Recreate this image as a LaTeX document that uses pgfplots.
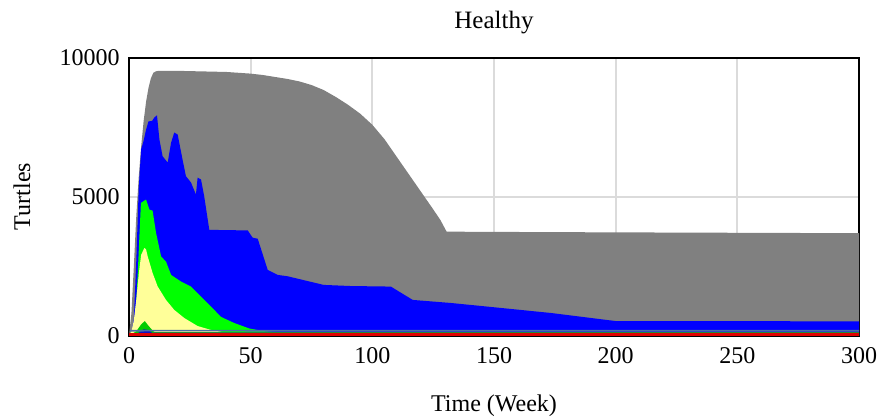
\documentclass[border=0pt]{standalone}
\usepackage{pgfplots}
\pgfplotsset{compat=1.18}
\usepackage{fontspec}
\setmainfont{Liberation Serif}

\definecolor{popgray}{HTML}{808080}
\definecolor{popblue}{HTML}{0000FF}
\definecolor{popgreen}{HTML}{00FF00}
\definecolor{popyellow}{HTML}{FFFF99}
\definecolor{popslate}{HTML}{4A6FA5}
\definecolor{popdkgreen}{HTML}{1F8A3A}
\definecolor{popred}{HTML}{E00000}
\definecolor{popdkblue}{HTML}{1010C0}

\begin{document}
\begin{tikzpicture}
\begin{axis}[
  at={(0,0)}, anchor=south west,
  scale only axis,
  width=365pt, height=139pt,
  xmin=0, xmax=300, ymin=0, ymax=10000,
  font=\fontsize{12pt}{14pt}\selectfont,
  set layers,
  axis line style={black, line width=1pt, on layer=axis foreground},
  scaled x ticks=false, scaled y ticks=false,
  xtick={0,50,100,150,200,250,300},
  xticklabels={0,50,100,150,200,250,300},
  ytick={0,5000,10000},
  yticklabels={0,5000,10000},
  major tick length=0pt,
  grid=major,
  major grid style={color=black!14, line width=1pt},
  xticklabel style={anchor=base, inner sep=0pt, yshift=-14pt},
  yticklabel style={anchor=east, inner sep=0pt, xshift=-4.5pt},
  title={\fontsize{12.5pt}{14pt}\selectfont Healthy},
  title style={at={(axis description cs:0.5,1.061)}, anchor=base, inner sep=0pt},
  xlabel={Time (Week)},
  xlabel style={at={(axis description cs:0.5,-0.2734)}, anchor=base, inner sep=0pt},
  ylabel={Turtles},
  ylabel style={at={(axis description cs:-0.1356,0.5)}, anchor=base, inner sep=0pt},
]
% total population
\addplot[fill=popgray, draw=none] coordinates {
  (0,0) (1,800) (2,2500) (3,4300) (4,5700) (5,6800) (6,7700) (7,8400)
  (8,8900) (9,9250) (10,9450) (11,9500) (12,9520) (20,9520) (30,9500)
  (40,9480) (50,9420) (55,9370) (60,9300) (65,9230) (70,9140) (75,9010)
  (80,8830) (85,8580) (90,8300) (95,7980) (100,7580) (105,7060)
  (110,6430) (115,5800) (120,5170) (125,4540) (128,4150) (130.5,3740)
  (140,3730) (200,3710) (300,3680)
} \closedcycle;
% juveniles
\addplot[fill=popblue, draw=none] coordinates {
  (0,0) (1,100) (2,600) (3,2700) (4,5300) (5,6700) (6,7000) (7,7400)
  (8,7700) (9.5,7720) (10.5,7850) (11.5,7920) (12.5,7050) (13.8,6450)
  (15.9,6220) (17.3,6940) (18.6,7300) (20,7230) (22,6330) (23.4,5730)
  (25.5,5500) (27.5,5070) (28.2,5680) (29.6,5610) (30.9,5010) (33,3800)
  (48.8,3780) (50.8,3520) (52.9,3480) (57,2360) (61.1,2180) (65.2,2130)
  (80,1820) (91,1780) (107.6,1760) (116.6,1280) (132.3,1170) (153,990)
  (173.4,810) (200,520) (300,510)
} \closedcycle;
% hatchlings
\addplot[fill=popgreen, draw=none] coordinates {
  (0,0) (2,300) (3,1200) (3.6,2250) (4.9,4770) (7,4890) (8.4,4530)
  (9.7,4490) (11.1,3700) (13.2,2840) (15.2,2660) (17.3,2180) (21.4,1940)
  (25.5,1760) (29.6,1400) (33.7,1040) (37.8,670) (43.2,450) (49.5,250)
  (56,150) (63,110) (80,80) (300,80)
} \closedcycle;
% eggs
\addplot[fill=popyellow, draw=none] coordinates {
  (0,0) (1,150) (2,550) (3,1300) (4,2200) (5,2900) (6.3,3150) (7,3100)
  (7.7,2840) (9.7,2250) (11.8,1760) (15.2,1280) (18.6,920) (22.7,630)
  (28.2,340) (33.7,200) (40,100) (50,60) (60,0)
} \closedcycle;
% small classes near the bottom
\addplot[fill=popgreen!80!black, draw=none] coordinates {
  (0,0) (3,150) (5,400) (6.5,520) (8,350) (10,150) (12,60) (15,0)
} \closedcycle;
\addplot[fill=popdkblue, draw=none] coordinates {
  (0,0) (4,100) (6,220) (8,200) (10,60) (12,0)
} \closedcycle;
\addplot[popslate, line width=0.8pt] coordinates {
  (0.5,170) (10,175) (100,170) (300,170)
};
\addplot[popdkgreen, line width=0.8pt] coordinates {
  (10,85) (100,85) (300,85)
};
\addplot[popred, line width=1.2pt] coordinates {
  (0,35) (100,35) (300,35)
};
\end{axis}
\pgfresetboundingbox
\path (-64.5pt,-41.75pt) rectangle (374pt,167.75pt);
\end{tikzpicture}
\end{document}
